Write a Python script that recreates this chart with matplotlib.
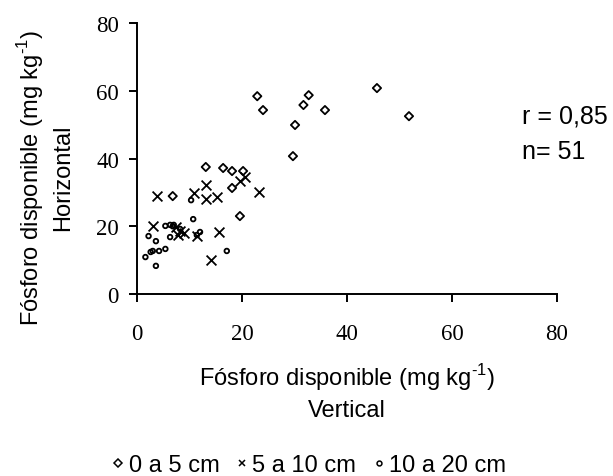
import numpy as np
import matplotlib.pyplot as plt
from matplotlib.lines import Line2D

# 0 a 5 cm
x1 = [6.8, 13.1, 16.4, 18.1, 20.2, 18.1, 19.6, 22.9, 24.0, 30.1, 29.7, 31.7, 32.7, 35.8, 45.7, 51.8]
y1 = [28.9, 37.5, 37.2, 36.3, 36.3, 31.3, 23.0, 58.4, 54.3, 49.9, 40.7, 55.8, 58.7, 54.3, 60.8, 52.5]
# 5 a 10 cm
x2 = [3.8, 3.0, 8.2, 9.0, 11.4, 10.8, 13.1, 13.1, 15.2, 15.6, 14.1, 19.6, 20.6, 23.3, 7.4, 7.8]
y2 = [28.9, 20.1, 18.6, 18.0, 17.1, 29.8, 32.2, 28.0, 28.6, 18.3, 10.0, 33.4, 34.5, 30.1, 19.8, 17.5]
# 10 a 20 cm
x3 = [1.6, 2.6, 3.0, 4.2, 5.4, 3.6, 2.2, 3.6, 6.3, 5.4, 6.3, 7.0, 10.7, 10.3, 11.4, 17.1, 12.0, 8.2, 6.8]
y3 = [10.9, 12.4, 12.7, 12.7, 13.3, 8.3, 17.1, 15.6, 16.8, 20.1, 20.4, 20.4, 22.1, 27.7, 17.4, 12.7, 18.3, 19.2, 20.0]

serif = 'Liberation Serif'
sans = 'Liberation Sans'
lab = 'Fósforo disponible (mg kg$^{\\text{-1}}$)'

plt.rcParams['mathtext.fontset'] = 'custom'
plt.rcParams['mathtext.rm'] = sans

fig = plt.figure(figsize=(6.13, 4.77), dpi=100)
ax = fig.add_axes([0.2235, 0.3816, 0.6852, 0.568])

ax.scatter(x1, y1, marker='D', s=18, facecolors='none', edgecolors='black', linewidths=1.3)
ax.scatter(x2, y2, marker='x', s=50, color='black', linewidths=1.3)
ax.scatter(x3, y3, marker='o', s=11, facecolors='none', edgecolors='black', linewidths=1.3)

ax.set_xlim(0, 80)
ax.set_ylim(0, 80)
ax.set_xticks([0, 20, 40, 60, 80])
ax.set_yticks([0, 20, 40, 60, 80])
ax.spines['top'].set_visible(False)
ax.spines['right'].set_visible(False)
ax.spines['left'].set_linewidth(1.4)
ax.spines['bottom'].set_linewidth(1.4)
ax.tick_params(direction='out', length=6, width=1.4, labelsize=16.5)
ax.tick_params(axis='x', pad=15)
ax.tick_params(axis='y', pad=7)
for t in ax.get_xticklabels() + ax.get_yticklabels():
    t.set_family(serif)

# axis titles
fig.text(347 / 613, 1 - 378 / 477, lab, fontsize=17, family=sans, ha='center', va='center')
fig.text(347 / 613, 1 - 411 / 477, 'Vertical', fontsize=17, family=sans, ha='center', va='center')
fig.text(31 / 613, 1 - 178 / 477, lab, fontsize=17, family=sans, ha='center', va='center', rotation=90)
fig.text(63 / 613, 1 - 178 / 477, 'Horizontal', fontsize=17, family=sans, ha='center', va='center', rotation=90)

fig.text(522 / 613, 1 - 117 / 477, 'r = 0,85', fontsize=18, family=sans, ha='left', va='center')
fig.text(522 / 613, 1 - 152 / 477, 'n= 51', fontsize=18, family=sans, ha='left', va='center')

handles = [
    Line2D([], [], marker='D', ls='none', mfc='none', mec='black', ms=4, mew=1.1),
    Line2D([], [], marker='x', ls='none', color='black', ms=5, mew=1.1),
    Line2D([], [], marker='o', ls='none', mfc='none', mec='black', ms=3.5, mew=1.1),
]
fig.legend(handles, ['0 a 5 cm', '5 a 10 cm', '10 a 20 cm'], loc='center',
           bbox_to_anchor=(308 / 613, 1 - 466 / 477), ncol=3, frameon=False,
           prop={'family': sans, 'size': 17}, handletextpad=0.1,
           columnspacing=0.6, handlelength=0.7, borderpad=0)

fig.savefig('out.png', dpi=100)
